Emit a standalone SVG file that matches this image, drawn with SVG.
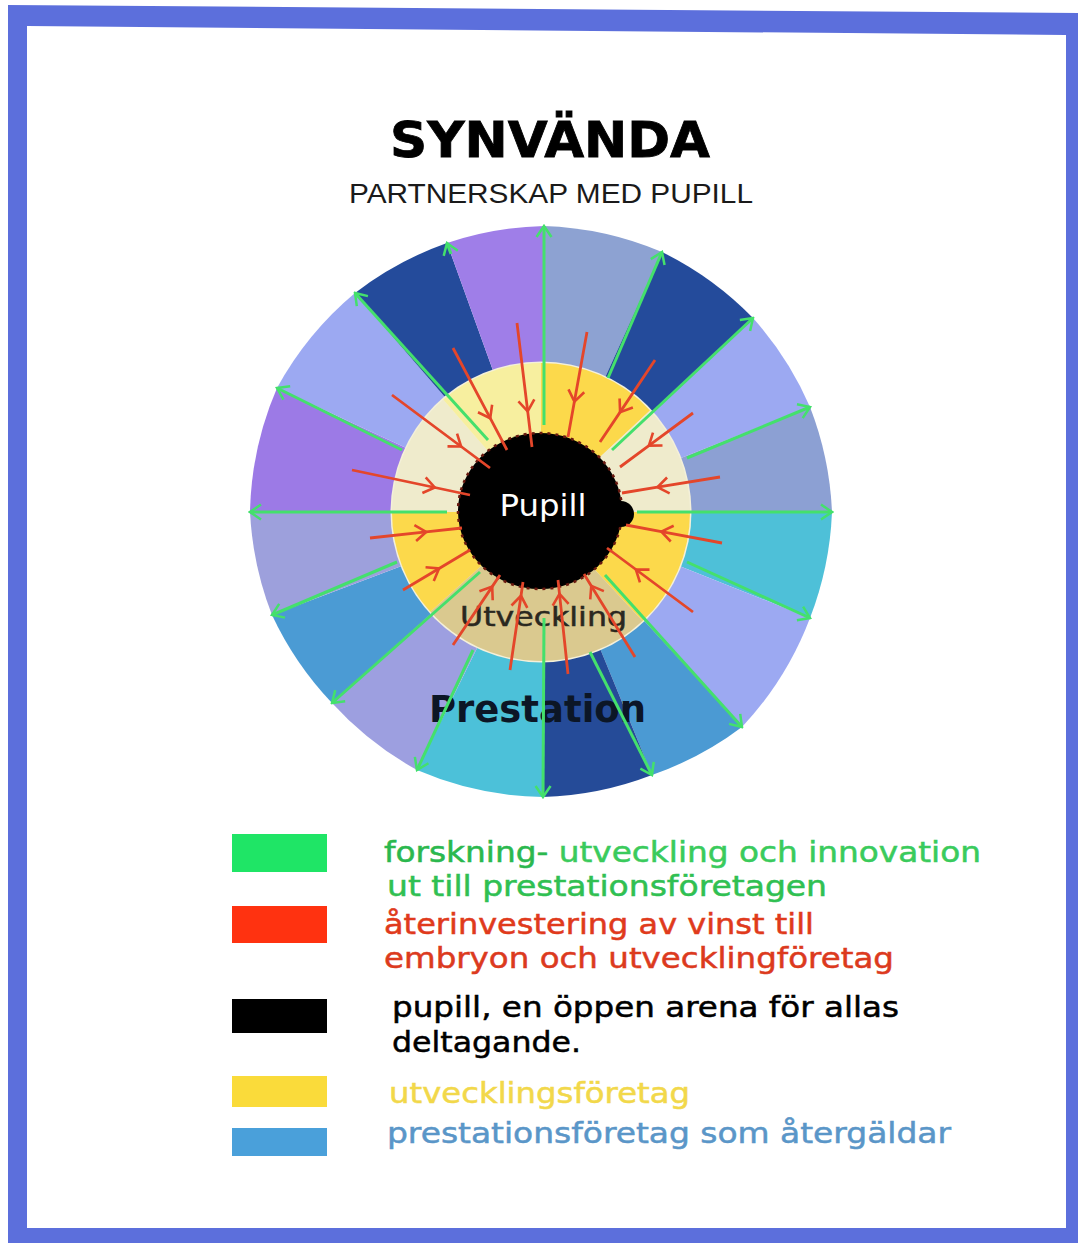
<svg xmlns="http://www.w3.org/2000/svg" width="1078" height="1243" viewBox="0 0 1078 1243">
<style>
.leg{font-family:"DejaVu Sans","Verdana",sans-serif;font-size:28px;stroke-width:0.5px}
.sp{fill:none;stroke:#44e06c;stroke-width:3;marker-end:url(#ga)}
.ra{fill:none;stroke:#e4462a;stroke-width:2.8;marker-mid:url(#rc)}
</style>
<defs>
<marker id="ga" viewBox="-14 -10 16 20" markerWidth="16" markerHeight="20" refX="0" refY="0" orient="auto" markerUnits="userSpaceOnUse">
<path d="M-11,-7.5 L0,0 L-11,7.5" fill="none" stroke="#44e06c" stroke-width="2.5"/>
</marker>
<marker id="rc" viewBox="-14 -10 16 20" markerWidth="16" markerHeight="20" refX="0" refY="0" orient="auto" markerUnits="userSpaceOnUse">
<path d="M-11,-8 L0,0 L-11,8" fill="none" stroke="#e4462a" stroke-width="2.6"/>
</marker>
</defs>
<rect width="1078" height="1243" fill="#ffffff"/>
<g id="frame">
<path d="M8,5 L1078,13 L1078,1243 L8,1243 Z M27,26 L1066,35 L1066,1228 L27,1228 Z" fill="#5c6fdc" fill-rule="evenodd"/>
</g>
<g id="title">
<text x="550" y="157" text-anchor="middle" font-family="DejaVu Sans, sans-serif" font-weight="bold" font-size="50" textLength="320" lengthAdjust="spacingAndGlyphs" fill="#000" stroke="#000" stroke-width="0.8">SYNVÄNDA</text>
<text x="551" y="203" text-anchor="middle" font-family="Liberation Sans, Arial, sans-serif" font-size="28" textLength="404" lengthAdjust="spacingAndGlyphs" fill="#1a1a1a">PARTNERSKAP MED PUPILL</text>
</g>
<g id="wedges">
<path d="M544,512 L544,226 A330,330 0 0 1 662,252 Z" fill="#8da2d2"/>
<path d="M544,512 L662,252 A330,330 0 0 1 753,318 Z" fill="#244b9b"/>
<path d="M544,512 L753,318 A330,330 0 0 1 810,407 Z" fill="#9ca9f2"/>
<path d="M544,512 L810,407 A330,330 0 0 1 832,512 Z" fill="#8ca0d3"/>
<path d="M544,512 L832,512 A330,330 0 0 1 810,618 Z" fill="#4ec0d8"/>
<path d="M544,512 L810,618 A330,330 0 0 1 742,727 Z" fill="#9ca9f2"/>
<path d="M544,512 L742,727 A330,330 0 0 1 652,775 Z" fill="#4b9ad3"/>
<path d="M544,512 L652,775 A330,330 0 0 1 543,797 Z" fill="#254b98"/>
<path d="M544,512 L543,797 A330,330 0 0 1 417,770 Z" fill="#4cc1d9"/>
<path d="M544,512 L417,770 A330,330 0 0 1 332,703 Z" fill="#9d9fe0"/>
<path d="M544,512 L332,703 A330,330 0 0 1 272,615 Z" fill="#4b9bd4"/>
<path d="M544,512 L272,615 A330,330 0 0 1 250,512 Z" fill="#9da0dc"/>
<path d="M544,512 L250,512 A330,330 0 0 1 277,388 Z" fill="#9c7ae6"/>
<path d="M544,512 L277,388 A330,330 0 0 1 355,293 Z" fill="#9ca9f2"/>
<path d="M544,512 L355,293 A330,330 0 0 1 447,243 Z" fill="#244b9b"/>
<path d="M544,512 L447,243 A330,330 0 0 1 544,226 Z" fill="#9f7ee8"/>
</g>
<g id="ring">
<circle cx="541" cy="512" r="150.5" fill="#f4f0da"/>
<path d="M541,512 L541,363 A149,149 0 0 1 650,410.4 Z" fill="#fcd94b"/>
<path d="M541,512 L650,410.4 A149,149 0 0 1 690,512 Z" fill="#efebcc"/>
<path d="M541,512 L690,512 A149,149 0 0 1 642.6,621 Z" fill="#fcd94b"/>
<path d="M541,512 L642.6,621 A149,149 0 0 1 430.3,611.7 Z" fill="#dac98f"/>
<path d="M541,512 L430.3,611.7 A149,149 0 0 1 392,512 Z" fill="#fcd94b"/>
<path d="M541,512 L392,512 A149,149 0 0 1 443.2,399.5 Z" fill="#efebcc"/>
<path d="M541,512 L443.2,399.5 A149,149 0 0 1 541,363 Z" fill="#f7ef9f"/>
</g>
<g id="pupil">
<ellipse cx="540" cy="511" rx="82" ry="78" fill="#000" stroke="#6a1a10" stroke-width="2.5" stroke-dasharray="3 5"/>
<circle cx="621" cy="514" r="13" fill="#000"/>
<text x="543" y="516" text-anchor="middle" font-family="DejaVu Sans, sans-serif" font-size="30" textLength="87" lengthAdjust="spacingAndGlyphs" fill="#ffffff">Pupill</text>
</g>
<g id="labels">
<text x="460" y="626" font-family="DejaVu Sans, sans-serif" font-size="27" textLength="167" lengthAdjust="spacingAndGlyphs" fill="#2a2820" stroke="#2a2820" stroke-width="0.5">Utveckling</text>
<text x="429" y="722" font-family="DejaVu Sans, sans-serif" font-weight="bold" font-size="37" textLength="217" lengthAdjust="spacingAndGlyphs" fill="#0c1626">Prestation</text>
</g>
<g id="connectors">
<g id="green-spokes">
<path class="sp" d="M544,425 L544,226"/>
<path class="sp" d="M608,378 L662,252"/>
<path class="sp" d="M612,450 L753,318"/>
<path class="sp" d="M687,458 L810,407"/>
<path class="sp" d="M637,512 L832,512"/>
<path class="sp" d="M687,562 L810,618"/>
<path class="sp" d="M605,575 L742,727"/>
<path class="sp" d="M590,652 L652,775"/>
<path class="sp" d="M544,618 L543,797"/>
<path class="sp" d="M473,650 L417,770"/>
<path class="sp" d="M480,572 L332,703"/>
<path class="sp" d="M397,562 L272,615"/>
<path class="sp" d="M447,512 L250,512"/>
<path class="sp" d="M402,450 L277,388"/>
<path class="sp" d="M488,440 L355,293"/>
<path class="sp" d="M451,254 L447,243"/>
</g>
<g id="red-arrows">
<path class="ra" d="M517,323 L527.7,411.3 L532,447"/>
<path class="ra" d="M587,332 L574.4,401.6 L568,437"/>
<path class="ra" d="M655,360 L620.1,412.1 L600,442"/>
<path class="ra" d="M693,413 L648.9,445.6 L620,467"/>
<path class="ra" d="M720,477 L657.5,487.2 L622,493"/>
<path class="ra" d="M722,543 L661.4,531.6 L626,525"/>
<path class="ra" d="M693,612 L635.9,569.5 L607,548"/>
<path class="ra" d="M635,657 L591.3,585.9 L584,574"/>
<path class="ra" d="M568,674 L559.5,593.9 L558,580"/>
<path class="ra" d="M510,670 L521,595.8 L523,582"/>
<path class="ra" d="M453,645 L492.2,586.6 L500,575"/>
<path class="ra" d="M403,590 L439.1,568.5 L470,550"/>
<path class="ra" d="M370,538 L426.2,531.9 L462,528"/>
<path class="ra" d="M352,470 L434.8,487.5 L470,495"/>
<path class="ra" d="M392,395 L461.1,446.5 L490,468"/>
<path class="ra" d="M453,348 L490.2,418.2 L507,450"/>
</g>
</g>
<g id="legend">
<g id="leg-green">
<rect x="232" y="834" width="95" height="38" fill="#1fe566"/>
<text class="leg" x="384" y="862" textLength="597" lengthAdjust="spacingAndGlyphs" fill="#3acb5c" stroke="#3acb5c"><tspan fill="#2bb84e" stroke="#2bb84e">forskning-</tspan> utveckling och innovation</text>
<text class="leg" x="387" y="896" textLength="440" lengthAdjust="spacingAndGlyphs" fill="#30c052" stroke="#30c052">ut till prestationsföretagen</text>
</g>
<g id="leg-red">
<rect x="232" y="906" width="95" height="37" fill="#ff3210"/>
<text class="leg" x="384" y="934" textLength="430" lengthAdjust="spacingAndGlyphs" fill="#e03a1c" stroke="#e03a1c">återinvestering av vinst till</text>
<text class="leg" x="384" y="968" textLength="510" lengthAdjust="spacingAndGlyphs" fill="#dc3a1e" stroke="#dc3a1e">embryon och utvecklingföretag</text>
</g>
<g id="leg-black">
<rect x="232" y="999" width="95" height="34" fill="#000"/>
<text class="leg" x="392" y="1017" textLength="507" lengthAdjust="spacingAndGlyphs" fill="#000" stroke="#000">pupill, en öppen arena för allas</text>
<text class="leg" x="392" y="1052" textLength="189" lengthAdjust="spacingAndGlyphs" fill="#000" stroke="#000">deltagande.</text>
</g>
<g id="leg-yellow">
<rect x="232" y="1076" width="95" height="31" fill="#fadb3a"/>
<text class="leg" x="389" y="1103" textLength="301" lengthAdjust="spacingAndGlyphs" fill="#f2d84a" stroke="#f2d84a">utvecklingsföretag</text>
</g>
<g id="leg-blue">
<rect x="232" y="1128" width="95" height="28" fill="#4aa0da"/>
<text class="leg" x="387" y="1143" textLength="564" lengthAdjust="spacingAndGlyphs" fill="#5a96c8" stroke="#5a96c8">prestationsföretag som återgäldar</text>
</g>
</g>
</svg>
